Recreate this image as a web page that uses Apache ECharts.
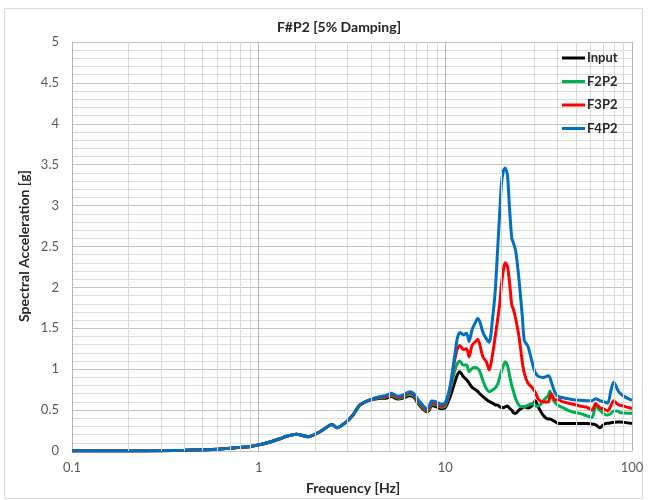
<!DOCTYPE html>
<html>
<head>
<meta charset="utf-8">
<script src="https://cdn.jsdelivr.net/npm/echarts@6/dist/echarts.min.js"></script>
<style>
  html, body { margin: 0; padding: 0; background: #ffffff; }
  #chart { width: 648px; height: 500px; }
</style>
</head>
<body>
<div id="chart"></div>
<script>
// Response spectrum, 5% damping: frequency [Hz] vs spectral acceleration [g]
const freq = [0.1,0.2,0.3,0.4,0.5,0.6,0.7,0.8,0.9,1.0,1.15,1.3,1.41,1.59,1.84,2.13,2.47,2.63,2.96,3.2,3.48,3.85,4.2,4.54,
  4.8,5.14,5.57,6.0,6.44,6.8,7.13,7.5,7.92,8.2,8.43,8.97,9.5,10.0,
  10.6,11.2,11.6,11.96,12.47,13.0,13.4,13.9,14.4,14.9,15.3,15.9,16.6,17.2,17.9,
  18.5,19.1,19.6,20.0,20.5,20.9,21.5,22.1,22.7,23.1,23.8,24.8,25.9,26.5,27.7,
  29.3,30.3,31.6,33.6,35.6,36.3,37.0,38.6,40.1,42.6,47.6,52.5,57.4,61.2,63.9,
  67.3,71.1,74.2,77.2,79.8,83.9,86.0,91.1,100];

const inputVals = [0.0,0.0,0.003,0.008,0.015,0.022,0.035,0.045,0.055,0.075,0.11,0.15,0.18,0.205,0.175,0.235,0.325,0.285,0.36,0.44,0.56,0.615,0.635,0.645,
  0.645,0.665,0.635,0.65,0.675,0.655,0.585,0.525,0.48,0.50,0.555,0.54,0.515,0.53,
  0.66,0.83,0.93,0.97,0.91,0.87,0.83,0.78,0.755,0.73,0.70,0.665,0.63,0.605,0.585,
  0.565,0.56,0.54,0.535,0.53,0.54,0.55,0.52,0.50,0.47,0.46,0.50,0.53,0.54,0.525,
  0.56,0.615,0.53,0.43,0.39,0.39,0.385,0.36,0.34,0.335,0.335,0.335,0.335,0.33,0.32,
  0.285,0.33,0.34,0.345,0.35,0.355,0.355,0.35,0.335];

const f2p2Vals = [0.0,0.0,0.003,0.008,0.015,0.022,0.035,0.045,0.055,0.075,0.11,0.15,0.18,0.205,0.175,0.235,0.325,0.285,0.36,0.44,0.56,0.615,0.64,0.655,
  0.66,0.68,0.645,0.665,0.695,0.67,0.60,0.54,0.49,0.515,0.575,0.56,0.535,0.55,
  0.74,0.97,1.07,1.10,1.05,1.05,0.97,1.01,1.02,1.01,0.97,0.86,0.76,0.725,0.745,
  0.77,0.82,0.91,0.98,1.05,1.09,1.05,0.92,0.80,0.74,0.64,0.56,0.54,0.54,0.56,
  0.58,0.55,0.55,0.62,0.68,0.735,0.67,0.595,0.56,0.53,0.48,0.46,0.43,0.41,0.55,
  0.50,0.45,0.44,0.46,0.49,0.49,0.47,0.465,0.46];

const f3p2Vals = [0.0,0.0,0.003,0.008,0.015,0.022,0.035,0.045,0.055,0.075,0.11,0.15,0.18,0.205,0.175,0.235,0.325,0.285,0.36,0.44,0.56,0.615,0.645,0.66,
  0.665,0.69,0.655,0.675,0.71,0.685,0.615,0.555,0.50,0.53,0.59,0.575,0.55,0.57,
  0.77,1.10,1.25,1.29,1.24,1.25,1.15,1.29,1.33,1.365,1.30,1.15,1.09,0.99,1.18,
  1.40,1.62,1.82,2.05,2.22,2.30,2.26,2.05,1.78,1.74,1.62,1.40,1.07,0.95,0.83,
  0.77,0.72,0.63,0.60,0.60,0.66,0.70,0.62,0.63,0.60,0.575,0.55,0.535,0.50,0.58,
  0.53,0.51,0.49,0.56,0.615,0.57,0.56,0.545,0.52];

const f4p2Vals = [0.0,0.0,0.003,0.008,0.015,0.022,0.035,0.045,0.055,0.075,0.11,0.15,0.18,0.205,0.175,0.235,0.325,0.285,0.36,0.44,0.56,0.615,0.65,0.67,
  0.68,0.705,0.67,0.69,0.725,0.70,0.63,0.57,0.52,0.55,0.61,0.60,0.57,0.59,
  0.79,1.15,1.38,1.45,1.42,1.44,1.34,1.48,1.56,1.62,1.58,1.45,1.37,1.33,1.62,
  1.95,2.50,2.95,3.28,3.43,3.46,3.38,2.95,2.60,2.55,2.45,2.10,1.62,1.35,1.28,
  1.07,0.96,0.91,0.90,0.92,0.90,0.84,0.72,0.67,0.65,0.63,0.62,0.615,0.615,0.64,
  0.615,0.60,0.585,0.745,0.845,0.745,0.71,0.665,0.62];

const seriesNames = ['Input', 'F2P2', 'F3P2', 'F4P2'];
const seriesColors = ['#000000', '#00B050', '#FF0000', '#0070C0'];
const seriesValues = [inputVals, f2p2Vals, f3p2Vals, f4p2Vals];

// intermediate log-decade gridlines (2..9 within each decade)
const minorFreq = [0.2,0.3,0.4,0.5,0.6,0.7,0.8,0.9, 2,3,4,5,6,7,8,9, 20,30,40,50,60,70,80,90];

const FONT = 'Lato, "Liberation Sans", sans-serif';

const chart = echarts.init(document.getElementById('chart'), null, { renderer: 'canvas' });

const dataSeries = seriesNames.map((name, k) => ({
  name: name,
  type: 'line',
  z: 3,
  symbol: 'none',
  showSymbol: false,
  smooth: 0.25,
  lineStyle: { color: seriesColors[k], width: 3 },
  itemStyle: { color: seriesColors[k] },
  data: freq.map((f, i) => [f, seriesValues[k][i]])
}));

// legend key: short line sample + bold name, stacked in the upper right
const legendTop = 58;
const legendStep = 23.5;
const legendGraphics = [];
seriesNames.forEach((name, k) => {
  const cy = legendTop + k * legendStep;
  legendGraphics.push({
    type: 'rect', silent: true, z: 50,
    shape: { x: 562, y: cy - 1.5, width: 23, height: 3 },
    style: { fill: seriesColors[k] }
  });
  legendGraphics.push({
    type: 'text', silent: true, z: 50, x: 587, y: cy,
    style: { text: name, fill: '#262626', font: 'bold 13px ' + FONT, textAlign: 'left', textVerticalAlign: 'middle' }
  });
});

chart.setOption({
  animation: false,
  backgroundColor: '#ffffff',
  grid: { left: 72, right: 16, top: 42, bottom: 49, containLabel: false },
  xAxis: {
    type: 'log',
    logBase: 10,
    min: 0.1,
    max: 100,
    axisLine: { show: true, lineStyle: { color: '#bfbfbf', width: 1 } },
    axisTick: { show: false },
    axisLabel: {
      color: '#595959', fontSize: 13, fontFamily: FONT, margin: 10,
      formatter: v => String(v)
    },
    splitLine: { show: true, lineStyle: { color: '#b4b4b4', width: 1 } }
  },
  yAxis: {
    type: 'value',
    min: 0,
    max: 5,
    interval: 0.5,
    axisLine: { show: false },
    axisTick: { show: false },
    axisLabel: { color: '#595959', fontSize: 13, fontFamily: FONT, margin: 13 },
    splitLine: { show: true, lineStyle: { color: '#c4c4c4', width: 1 } },
    minorTick: { show: false, splitNumber: 5 },
    minorSplitLine: { show: true, lineStyle: { color: '#dedede', width: 1 } }
  },
  graphic: [
    {
      type: 'rect', silent: true, z: -10,
      shape: { x: 4.5, y: 8.5, width: 638, height: 490 },
      style: { fill: 'none', stroke: '#d9d9d9', lineWidth: 1 }
    },
    {
      type: 'text', x: 339, y: 27,
      style: { text: 'F#P2 [5% Damping]', fill: '#262626', font: 'bold 14px ' + FONT, textAlign: 'center', textVerticalAlign: 'middle' }
    },
    {
      type: 'text', x: 353, y: 488,
      style: { text: 'Frequency [Hz]', fill: '#262626', font: 'bold 14px ' + FONT, textAlign: 'center', textVerticalAlign: 'middle' }
    },
    {
      type: 'text', x: 24, y: 246, rotation: Math.PI / 2,
      style: { text: 'Spectral Acceleration [g]', fill: '#262626', font: 'bold 14px ' + FONT, textAlign: 'center', textVerticalAlign: 'middle' }
    }
  ].concat(legendGraphics),
  series: [
    {
      name: 'grid-minor',
      type: 'line',
      z: 1,
      data: [],
      silent: true,
      markLine: {
        silent: true,
        symbol: ['none', 'none'],
        label: { show: false },
        animation: false,
        lineStyle: { color: '#d9d9d9', width: 1, type: 'solid' },
        emphasis: { disabled: true },
        data: minorFreq.map(v => ({ xAxis: v }))
      }
    }
  ].concat(dataSeries)
});
</script>
</body>
</html>
